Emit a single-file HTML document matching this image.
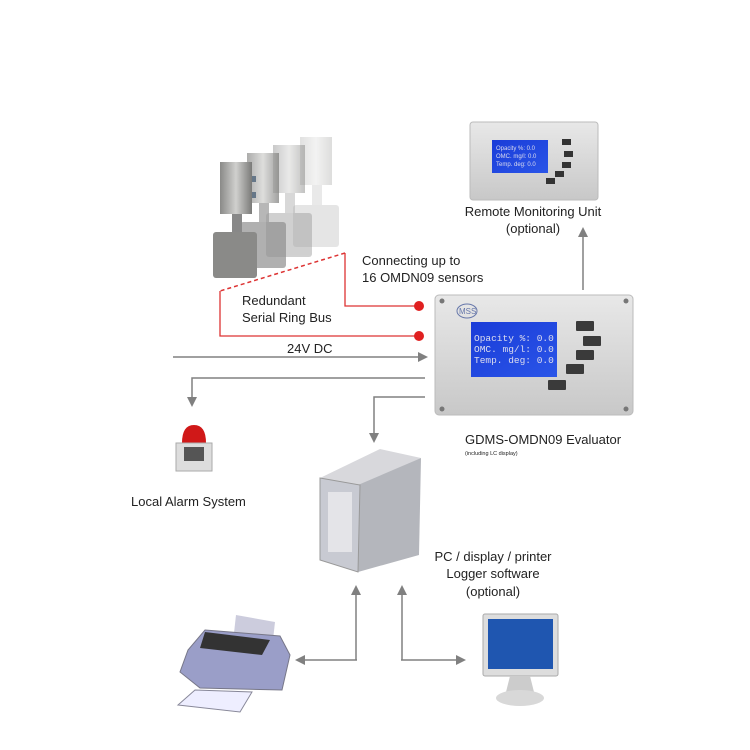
<!DOCTYPE html>
<html><head><meta charset="utf-8"><style>
html,body{margin:0;padding:0;background:#fff}
svg{display:block}
text{font-family:"Liberation Sans",sans-serif;fill:#222}
</style></head><body>
<svg width="750" height="750" viewBox="0 0 750 750" xmlns="http://www.w3.org/2000/svg">
<defs>
<marker id="ah" markerWidth="10" markerHeight="10" refX="8" refY="5" orient="auto" markerUnits="userSpaceOnUse"><path d="M0,0 L10,5 L0,10 z" fill="#808080"/></marker>
<linearGradient id="cyl" x1="0" x2="1"><stop offset="0" stop-color="#8a8a88"/><stop offset="0.5" stop-color="#d0d0ce"/><stop offset="1" stop-color="#7a7a78"/></linearGradient>
<linearGradient id="scr" x1="0" y1="0" x2="1" y2="1"><stop offset="0" stop-color="#1a3cd8"/><stop offset="1" stop-color="#2a55e8"/></linearGradient>
<linearGradient id="box" x1="0" y1="0" x2="0" y2="1"><stop offset="0" stop-color="#e8e8e8"/><stop offset="1" stop-color="#c8c8c8"/></linearGradient>
</defs>

<!-- sensors (back to front) -->
<g opacity="0.25">
<rect x="300" y="137" width="32" height="48" fill="url(#cyl)"/><rect x="312" y="185" width="10" height="28" fill="#aaa"/><rect x="293" y="205" width="46" height="42" rx="3" fill="#999"/>
</g>
<g opacity="0.45">
<rect x="273" y="145" width="32" height="48" fill="url(#cyl)"/><rect x="285" y="193" width="10" height="28" fill="#aaa"/><rect x="266" y="213" width="46" height="44" rx="3" fill="#999"/>
</g>
<g opacity="0.7">
<rect x="247" y="153" width="32" height="50" fill="url(#cyl)"/><rect x="259" y="203" width="10" height="28" fill="#999"/><rect x="240" y="222" width="46" height="46" rx="3" fill="#8f8f8f"/>
</g>
<g>
<rect x="220" y="162" width="32" height="52" fill="url(#cyl)"/><rect x="232" y="214" width="10" height="26" fill="#888"/><rect x="213" y="232" width="44" height="46" rx="3" fill="#8a8a88"/>
<rect x="252" y="176" width="4" height="6" fill="#678"/><rect x="252" y="192" width="4" height="6" fill="#678"/>
</g>

<!-- red ring bus -->
<path d="M345,253 L220,291" stroke="#d33" stroke-width="1.5" stroke-dasharray="4,3" fill="none"/>
<path d="M220,291 L220,336 L419,336" stroke="#d33" stroke-width="1.3" fill="none"/>
<path d="M345,253 L345,306 L419,306" stroke="#d33" stroke-width="1.3" fill="none"/>
<circle cx="419" cy="306" r="5" fill="#e02020"/>
<circle cx="419" cy="336" r="5" fill="#e02020"/>

<text x="242" y="305" font-size="13">Redundant</text>
<text x="242" y="322" font-size="13">Serial Ring Bus</text>
<text x="362" y="265" font-size="13">Connecting up to</text>
<text x="362" y="282" font-size="13">16 OMDN09 sensors</text>

<!-- 24V DC -->
<text x="287" y="353" font-size="13">24V DC</text>
<line x1="173" y1="357" x2="426" y2="357" stroke="#808080" stroke-width="1.5" marker-end="url(#ah)"/>
<path d="M425,378 L192,378 L192,405" stroke="#808080" stroke-width="1.5" fill="none" marker-end="url(#ah)"/>
<path d="M425,397 L374,397 L374,441" stroke="#808080" stroke-width="1.5" fill="none" marker-end="url(#ah)"/>

<!-- remote unit -->
<rect x="470" y="122" width="128" height="78" rx="3" fill="url(#box)" stroke="#bbb"/>
<rect x="492" y="140" width="56" height="33" fill="url(#scr)"/>
<text x="496" y="150" font-size="6" fill="#cde" style="fill:#dde">Opacity %: 0.0</text>
<text x="496" y="158" font-size="6" style="fill:#dde">OMC. mg/l: 0.0</text>
<text x="496" y="166" font-size="6" style="fill:#dde">Temp. deg: 0.0</text>
<rect x="562" y="139" width="9" height="6" fill="#333"/><rect x="564" y="151" width="9" height="6" fill="#333"/><rect x="562" y="162" width="9" height="6" fill="#333"/><rect x="555" y="171" width="9" height="6" fill="#333"/><rect x="546" y="178" width="9" height="6" fill="#333"/>
<text x="533" y="216" font-size="13" text-anchor="middle">Remote Monitoring Unit</text>
<text x="533" y="233" font-size="13" text-anchor="middle">(optional)</text>
<line x1="583" y1="290" x2="583" y2="229" stroke="#808080" stroke-width="1.5" marker-end="url(#ah)"/>

<!-- evaluator -->
<rect x="435" y="295" width="198" height="120" rx="4" fill="url(#box)" stroke="#bbb"/>
<circle cx="442" cy="301" r="2.5" fill="#777"/><circle cx="626" cy="301" r="2.5" fill="#777"/><circle cx="442" cy="409" r="2.5" fill="#777"/><circle cx="626" cy="409" r="2.5" fill="#777"/>
<ellipse cx="467" cy="311" rx="10" ry="7" fill="none" stroke="#67a" stroke-width="1"/>
<text x="459" y="314" font-size="8" style="fill:#67a">MSS</text>
<rect x="471" y="322" width="86" height="55" fill="url(#scr)"/>
<text x="474" y="341" font-size="9.5" style="fill:#dde;font-family:'Liberation Mono',monospace">Opacity %: 0.0</text>
<text x="474" y="352" font-size="9.5" style="fill:#dde;font-family:'Liberation Mono',monospace">OMC. mg/l: 0.0</text>
<text x="474" y="363" font-size="9.5" style="fill:#dde;font-family:'Liberation Mono',monospace">Temp. deg: 0.0</text>
<rect x="576" y="321" width="18" height="10" rx="1" fill="#3a3a3a"/><rect x="583" y="336" width="18" height="10" rx="1" fill="#3a3a3a"/><rect x="576" y="350" width="18" height="10" rx="1" fill="#3a3a3a"/><rect x="566" y="364" width="18" height="10" rx="1" fill="#3a3a3a"/><rect x="548" y="380" width="18" height="10" rx="1" fill="#3a3a3a"/>
<text x="465" y="444" font-size="13">GDMS-OMDN09 Evaluator</text>
<text x="465" y="455" font-size="5.5">(including LC display)</text>

<!-- alarm -->
<path d="M182,443 Q182,425 194,425 Q206,425 206,443 z" fill="#d01818"/>
<rect x="176" y="443" width="36" height="28" fill="#ddd" stroke="#aaa"/>
<rect x="184" y="447" width="20" height="14" fill="#555"/>
<text x="131" y="506" font-size="13">Local Alarm System</text>

<!-- server -->
<polygon points="320,478 380,449 421,458 360,485" fill="#d8d8dc"/>
<polygon points="358,485 421,458 419,555 358,572" fill="#b4b6bc"/>
<polygon points="320,478 360,485 358,572 320,560" fill="#c8cad2" stroke="#999"/>
<rect x="328" y="492" width="24" height="60" fill="#e4e4e8"/>

<text x="493" y="561" font-size="13" text-anchor="middle">PC / display / printer</text>
<text x="493" y="578" font-size="13" text-anchor="middle">Logger software</text>
<text x="493" y="596" font-size="13" text-anchor="middle">(optional)</text>

<!-- bottom arrows -->
<line x1="356" y1="660" x2="356" y2="587" stroke="#808080" stroke-width="1.5" marker-end="url(#ah)"/>
<line x1="357" y1="660" x2="297" y2="660" stroke="#808080" stroke-width="1.5" marker-end="url(#ah)"/>
<line x1="402" y1="660" x2="402" y2="587" stroke="#808080" stroke-width="1.5" marker-end="url(#ah)"/>
<line x1="401" y1="660" x2="464" y2="660" stroke="#808080" stroke-width="1.5" marker-end="url(#ah)"/>

<!-- printer -->
<polygon points="236,615 275,622 273,640 234,633" fill="#ccd"/>
<polygon points="205,630 280,636 290,655 282,690 200,688 180,672 188,650" fill="#9a9ec8" stroke="#778"/>
<polygon points="205,632 270,640 262,655 200,648" fill="#333"/>
<polygon points="195,690 252,692 240,712 178,705" fill="#eef" stroke="#889"/>

<!-- monitor -->
<rect x="483" y="614" width="75" height="62" rx="2" fill="#ddd" stroke="#aaa"/>
<rect x="488" y="619" width="65" height="50" fill="#1f56b0"/>
<polygon points="510,676 530,676 534,692 506,692" fill="#ccc"/>
<ellipse cx="520" cy="698" rx="24" ry="8" fill="#d8d8d8"/>
</svg>
</body></html>
